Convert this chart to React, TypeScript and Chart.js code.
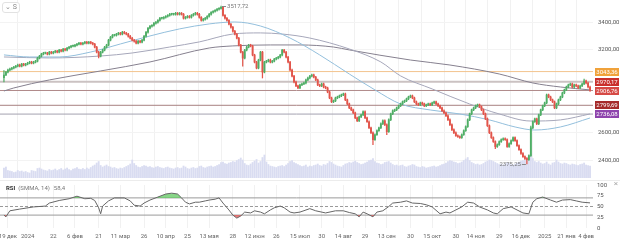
import React, { useEffect, useRef } from 'react';
import { Chart, registerables } from 'chart.js';
Chart.register(...registerables);

// ---------- DATA ----------
const closes = [
3019, 3040, 3055, 3062, 3069, 3076, 3083, 3091, 3083, 3098,
3091, 3098, 3105, 3112, 3105, 3112, 3119, 3141, 3155, 3170,
3177, 3177, 3170, 3184, 3177, 3184, 3191, 3184, 3199, 3191,
3206, 3199, 3213, 3220, 3228, 3228, 3235, 3242, 3249, 3242,
3249, 3256, 3249, 3256, 3249, 3242, 3220, 3184, 3155, 3184,
3199, 3220, 3235, 3271, 3292, 3306, 3306, 3314, 3321, 3314,
3328, 3321, 3314, 3299, 3285, 3271, 3263, 3249, 3263, 3256,
3271, 3299, 3328, 3357, 3371, 3378, 3393, 3400, 3414, 3429,
3429, 3436, 3443, 3450, 3458, 3458, 3458, 3465, 3458, 3465,
3458, 3429, 3436, 3443, 3436, 3450, 3458, 3465, 3458, 3436,
3414, 3422, 3429, 3443, 3458, 3472, 3479, 3486, 3494, 3501,
3508, 3450, 3429, 3414, 3386, 3364, 3335, 3314, 3285, 3235,
3184, 3141, 3199, 3220, 3235, 3228, 3163, 3112, 3069, 3127,
3184, 3040, 3112, 3119, 3127, 3112, 3119, 3134, 3141, 3148,
3163, 3199, 3184, 3148, 3112, 3055, 3011, 2968, 2940, 2925,
2947, 2954, 2961, 2983, 2997, 3011, 3019, 3004, 2983, 2947,
2940, 2954, 2932, 2925, 2896, 2853, 2825, 2832, 2853, 2860,
2868, 2875, 2882, 2839, 2810, 2781, 2767, 2745, 2709, 2688,
2716, 2731, 2753, 2709, 2681, 2637, 2601, 2551, 2587, 2616,
2637, 2666, 2688, 2659, 2609, 2695, 2738, 2760, 2767, 2781,
2796, 2810, 2825, 2832, 2846, 2860, 2868, 2853, 2825, 2810,
2803, 2817, 2810, 2796, 2803, 2810, 2803, 2817, 2825, 2810,
2796, 2781, 2760, 2745, 2724, 2695, 2659, 2623, 2601, 2580,
2573, 2566, 2587, 2616, 2645, 2695, 2738, 2767, 2781, 2796,
2803, 2789, 2767, 2738, 2702, 2652, 2601, 2566, 2537, 2501,
2515, 2537, 2551, 2558, 2551, 2501, 2522, 2544, 2566, 2544,
2508, 2479, 2451, 2429, 2415, 2407, 2436, 2637, 2681, 2702,
2666, 2731, 2767, 2796, 2817, 2875, 2860, 2839, 2825, 2781,
2810, 2839, 2860, 2889, 2911, 2932, 2947, 2954, 2932, 2947,
2940, 2925, 2940, 2954, 2976, 2961, 2932, 2906.76,
];
const firstOpen = 3000;
const wickPad = 6;
const highOverrides: Record<number, number> = { 0: 3050, 110: 3517.72, 267: 2650, 294: 2990 };
const lowOverrides: Record<number, number> = { 0: 2968, 48: 3142, 121: 3083, 131: 2997, 187: 2515, 194: 2587, 249: 2486, 265: 2375.25 };

const volumes = [
40, 44, 30, 28, 26, 22, 24, 30, 26, 28,
24, 26, 22, 20, 30, 28, 26, 38, 40, 36,
32, 30, 28, 34, 30, 32, 36, 30, 34, 38,
32, 36, 40, 34, 30, 36, 38, 42, 36, 34,
38, 34, 40, 36, 42, 48, 52, 60, 66, 50,
44, 48, 52, 46, 44, 40, 42, 38, 36, 40,
38, 42, 46, 50, 56, 72, 58, 50, 44, 42,
46, 50, 48, 44, 46, 42, 40, 44, 46, 42,
40, 38, 42, 44, 40, 38, 36, 40, 42, 38,
40, 48, 44, 38, 36, 40, 42, 38, 40, 46,
48, 42, 40, 44, 46, 48, 44, 46, 50, 54,
62, 64, 58, 56, 60, 62, 66, 64, 70, 74,
80, 72, 58, 52, 50, 56, 62, 68, 74, 60,
66, 82, 92, 64, 54, 48, 46, 44, 42, 46,
48, 50, 46, 52, 58, 66, 70, 62, 58, 54,
50, 46, 48, 52, 44, 48, 46, 50, 52, 56,
50, 48, 54, 52, 58, 66, 62, 56, 52, 48,
46, 44, 50, 56, 58, 62, 60, 64, 68, 62,
58, 54, 56, 60, 64, 70, 72, 78, 66, 60,
58, 54, 56, 62, 64, 66, 60, 54, 50, 52,
48, 50, 52, 46, 44, 48, 50, 54, 52, 46,
44, 42, 46, 44, 40, 42, 44, 46, 48, 44,
46, 50, 54, 56, 60, 66, 70, 68, 64, 62,
58, 60, 64, 70, 76, 82, 70, 62, 58, 54,
56, 52, 54, 58, 64, 68, 72, 70, 66, 62,
58, 54, 56, 52, 56, 62, 58, 54, 52, 56,
60, 64, 68, 70, 74, 80, 72, 96, 78, 66,
62, 66, 60, 56, 58, 64, 56, 52, 60, 62,
72, 64, 58, 56, 60, 58, 54, 52, 56, 54,
52, 50, 54, 56, 60, 52, 50, 48,
];

// moving averages: [candle index, value]
const maFast = [[0,3164],[13,3149],[28,3149],[44,3185],[59,3243],[74,3301],[89,3352],[104,3388],[117,3402],[130,3373],[145,3286],[160,3164],[175,3026],[188,2911],[201,2809],[216,2766],[231,2737],[246,2694],[259,2643],[269,2621],[282,2643],[297,2708]];
const maMid = [[0,3149],[23,3142],[49,3156],[65,3178],[84,3221],[99,3258],[116,3315],[130,3323],[141,3315],[155,3286],[175,3207],[191,3113],[201,3012],[217,2918],[236,2809],[251,2737],[267,2686],[282,2694],[297,2737]];
const maSlow = [[0,2903],[5,2925],[23,2983],[49,3048],[74,3113],[104,3214],[116,3229],[135,3236],[150,3236],[167,3221],[175,3200],[206,3127],[226,3091],[251,3026],[268,2961],[282,2932],[297,2911]];

const levelValues = [3043.36, 2970.17, 2906.76, 2799.69, 2736.08];

const priceTicks = [2400, 2600, 3200, 3400];
const rsiTicks = [0, 25, 50, 75, 100];

const tickIdx = [2, 12, 25, 36, 48, 59, 71, 82, 93, 104, 116, 127, 138, 150, 161, 172, 183, 194, 206, 217, 229, 239, 251, 262, 274, 285, 295];
const tickLabels = ['19 дек', '2024', '22', '6 фев', '21', '11 мар', '26', '10 апр', '25', '13 мая', '28', '12 июн', '26', '15 июл', '30', '14 авг', '29', '13 сен', '30', '15 окт', '30', '14 ноя', '29', '16 дек', '2025', '21 янв', '4 фев'];

const rsiIdx = [0,1,3,8,15,21,23,28,33,37,41,44,46,48,49,50,53,56,61,64,66,69,71,74,78,82,85,88,90,92,94,97,99,102,104,107,109,111,114,116,118,120,122,125,127,130,132,135,137,140,142,145,147,150,155,158,163,168,172,175,178,180,182,184,187,189,192,195,197,201,204,207,211,214,217,221,224,226,229,232,235,238,241,245,248,250,253,257,260,263,266,268,270,273,277,280,283,287,290,293,297];
const rsiVal = [30,26,40,44,49,51,58,64,68,74,68,69,64,47,33,51,63,70,70,63,53,51,58,65,72,79,81,79,70,60,56,60,60,63,65,67,70,58,42,30,23,28,37,35,40,37,33,42,47,51,47,37,35,37,45,40,35,40,40,36,33,26,37,33,26,37,40,50,58,60,63,58,57,54,49,33,37,35,42,49,60,58,49,42,35,33,45,49,42,35,33,60,68,72,65,60,65,66,63,60,58.4];

// ---------- STYLE ----------
const X_MIN = -2, X_MAX = 298.5;
const PRICE_MIN = 2274, PRICE_MAX = 3561;
const VOL_MAX = 712;
const UP = '#4fae66', DOWN = '#e2554b';
const levelLineColors = ['#f3c48e', '#cbc2c2', '#b08a8a', '#a88080', '#a4a2b0'];
const levelLineWidths = [1, 2, 1, 1, 1];
const levelBoxColors = ['#f0a23b', '#c9302c', '#d64a45', '#a52a2a', '#8e44ad'];
const FONT = 'Roboto, "DejaVu Sans", sans-serif';

const fmt = (v: number) => v.toFixed(2).replace('.', ',');

const opens = closes.map((c, i) => (i === 0 ? firstOpen : closes[i - 1]));
const highs = closes.map((c, i) => highOverrides[i] ?? Math.max(c, opens[i]) + wickPad);
const lows = closes.map((c, i) => lowOverrides[i] ?? Math.min(c, opens[i]) - wickPad);
const candleColors = closes.map((c, i) => (c >= opens[i] ? UP : DOWN));

const pricePlugin = {
  id: 'priceOverlay',
  afterDraw(chart: any) {
    const { ctx, chartArea } = chart;
    const ys = chart.scales.y, xs = chart.scales.x;
    ctx.save();
    const h = 8;
    const items = levelValues.map((v, i) => ({ y: ys.getPixelForValue(v), i }));
    items.sort((a, b) => a.y - b.y);
    for (let k = 1; k < items.length; k++) {
      const d = items[k].y - items[k - 1].y;
      if (d < h + 1) { const s = (h + 1 - d) / 2; items[k - 1].y -= s; items[k].y += s; }
    }
    ctx.font = `6px ${FONT}`;
    ctx.textAlign = 'center';
    ctx.textBaseline = 'middle';
    items.forEach((it) => {
      ctx.fillStyle = levelBoxColors[it.i];
      ctx.fillRect(chartArea.right + 2, Math.round(it.y - h / 2), 24, h);
      ctx.fillStyle = '#ffffff';
      ctx.fillText(fmt(levelValues[it.i]), chartArea.right + 14, Math.round(it.y - h / 2) + h / 2 + 0.5);
    });
    let iH = 0, iL = 0;
    highs.forEach((v, i) => { if (v > highs[iH]) iH = i; });
    lows.forEach((v, i) => { if (v < lows[iL]) iL = i; });
    ctx.strokeStyle = '#888';
    ctx.lineWidth = 1;
    ctx.fillStyle = '#777';
    ctx.textBaseline = 'middle';
    const hx = xs.getPixelForValue(iH), hy = ys.getPixelForValue(highs[iH]);
    ctx.beginPath(); ctx.moveTo(hx + 1, Math.round(hy) + 0.5); ctx.lineTo(hx + 5, Math.round(hy) + 0.5); ctx.stroke();
    ctx.textAlign = 'left';
    ctx.fillText(fmt(highs[iH]), hx + 6, hy + 1);
    const lx = xs.getPixelForValue(iL), ly = ys.getPixelForValue(lows[iL]);
    ctx.beginPath(); ctx.moveTo(lx - 1, Math.round(ly) + 0.5); ctx.lineTo(lx - 5, Math.round(ly) + 0.5); ctx.stroke();
    ctx.textAlign = 'right';
    ctx.fillText(fmt(lows[iL]), lx - 6, ly + 1);
    ctx.restore();
  },
};

const rsiPlugin = {
  id: 'rsiOverlay',
  afterDraw(chart: any) {
    const { ctx } = chart;
    ctx.save();
    ctx.strokeStyle = '#ececec';
    ctx.beginPath(); ctx.moveTo(0, 0.5); ctx.lineTo(620, 0.5); ctx.stroke();
    ctx.textBaseline = 'middle';
    ctx.textAlign = 'left';
    ctx.font = `bold 6px ${FONT}`;
    ctx.fillStyle = '#333';
    let x = 6;
    ctx.fillText('RSI', x, 8);
    x += ctx.measureText('RSI').width + 3;
    ctx.font = `6px ${FONT}`;
    ctx.fillStyle = '#777';
    ctx.fillText('(SMMA, 14)', x, 8);
    x += ctx.measureText('(SMMA, 14)').width + 4;
    ctx.fillText(String(rsiVal[rsiVal.length - 1]).replace('.', ','), x, 8);
    ctx.font = `8px ${FONT}`;
    ctx.fillStyle = '#aaa';
    ctx.textAlign = 'center';
    ctx.fillText('×', 616, 4);
    ctx.restore();
  },
};

export default function App() {
  const priceRef = useRef<HTMLCanvasElement>(null);
  const rsiRef = useRef<HTMLCanvasElement>(null);

  useEffect(() => {
    const idx = closes.map((_, i) => i);
    const xScaleBase = {
      type: 'linear' as const,
      min: X_MIN,
      max: X_MAX,
      offset: false,
      afterBuildTicks: (s: any) => { s.ticks = tickIdx.map((v) => ({ value: v })); },
      grid: { color: '#f1f1f1', drawTicks: false },
      border: { display: false },
    };

    const priceChart = new Chart(priceRef.current as HTMLCanvasElement, {
      type: 'bar',
      data: {
        datasets: [
          {
            type: 'bar', label: 'body', order: 0, yAxisID: 'y', grouped: false,
            data: idx.map((i) => ({ x: i, y: [opens[i], closes[i]] })) as any,
            backgroundColor: candleColors, barThickness: 1.2, minBarLength: 1,
          },
          {
            type: 'bar', label: 'wick', order: 1, yAxisID: 'y', grouped: false,
            data: idx.map((i) => ({ x: i, y: [lows[i], highs[i]] })) as any,
            backgroundColor: candleColors, barThickness: 0.6,
          },
          ...[maFast, maMid, maSlow].map((m, k) => ({
            type: 'line' as const, label: 'ma' + k, order: 2, yAxisID: 'y',
            data: m.map(([i, v]) => ({ x: i, y: v })),
            borderColor: ['#93bfdc', '#a6a7ba', '#86808f'][k], borderWidth: 1,
            pointRadius: 0, cubicInterpolationMode: 'monotone' as const, fill: false,
          })),
          ...levelValues.map((v, k) => ({
            type: 'line' as const, label: 'lvl' + k, order: 3, yAxisID: 'y',
            data: [{ x: X_MIN, y: v }, { x: X_MAX, y: v }],
            borderColor: levelLineColors[k], borderWidth: levelLineWidths[k], pointRadius: 0, fill: false,
          })),
          {
            type: 'bar', label: 'vol', order: 5, yAxisID: 'v', grouped: false,
            data: idx.map((i) => ({ x: i, y: volumes[i] })) as any,
            backgroundColor: '#d9dcf1', barThickness: 1.2,
          },
        ] as any,
      },
      options: {
        animation: false,
        responsive: false,
        maintainAspectRatio: false,
        events: [],
        layout: { padding: { top: 0, bottom: 2, left: 0, right: 0 } },
        plugins: { legend: { display: false }, tooltip: { enabled: false } },
        scales: {
          x: { ...xScaleBase, ticks: { display: false }, afterFit: (s: any) => { s.height = 0; s.paddingLeft = 0; s.paddingRight = 0; } },
          y: {
            type: 'linear', position: 'right', min: PRICE_MIN, max: PRICE_MAX,
            afterBuildTicks: (s: any) => { s.ticks = priceTicks.map((v) => ({ value: v })); },
            ticks: { callback: (v: any) => fmt(Number(v)), font: { size: 6, family: FONT }, color: '#555', padding: 5 },
            grid: { color: '#f3f3f3', drawTicks: false },
            border: { display: false },
            afterFit: (s: any) => { s.width = 27; s.paddingTop = 0; s.paddingBottom = 0; },
          },
          v: { type: 'linear', display: false, min: 0, max: VOL_MAX },
        },
      } as any,
      plugins: [pricePlugin],
    });

    const rsiPoints = rsiIdx.map((i, k) => ({ x: i, y: rsiVal[k] }));
    const rsiChart = new Chart(rsiRef.current as HTMLCanvasElement, {
      type: 'line',
      data: {
        datasets: [
          {
            label: 'rsi', data: rsiPoints, borderColor: '#666', borderWidth: 1, pointRadius: 0, order: 0,
            fill: { target: { value: 70 }, above: 'rgba(96,200,96,0.75)', below: 'rgba(0,0,0,0)' },
          },
          {
            label: 'rsiLow', data: rsiPoints, borderColor: 'rgba(0,0,0,0)', borderWidth: 0, pointRadius: 0, order: 1,
            fill: { target: { value: 30 }, above: 'rgba(0,0,0,0)', below: 'rgba(226,90,90,0.8)' },
          },
          ...[70, 30].map((v) => ({
            label: 'band' + v, data: [{ x: X_MIN, y: v }, { x: X_MAX, y: v }],
            borderColor: '#9a9a9a', borderWidth: 1, pointRadius: 0, fill: false, order: 2,
          })),
          {
            label: 'mid', data: [{ x: X_MIN, y: 50 }, { x: X_MAX, y: 50 }],
            borderColor: '#9a9a9a', borderWidth: 1, borderDash: [3, 2], pointRadius: 0, fill: false, order: 2,
          },
        ] as any,
      },
      options: {
        animation: false,
        responsive: false,
        maintainAspectRatio: false,
        events: [],
        layout: { padding: { top: 5, bottom: 0, left: 0, right: 0 } },
        plugins: { legend: { display: false }, tooltip: { enabled: false } },
        scales: {
          x: {
            ...xScaleBase,
            ticks: {
              autoSkip: false, maxRotation: 0, padding: 5, font: { size: 6, family: FONT }, color: '#666',
              callback: (v: any) => { const k = tickIdx.indexOf(Number(v)); return k >= 0 ? tickLabels[k] : ''; },
            },
            afterFit: (s: any) => { s.height = 15; s.paddingLeft = 0; s.paddingRight = 0; },
          },
          y: {
            type: 'linear', position: 'right', min: 0, max: 100,
            afterBuildTicks: (s: any) => { s.ticks = rsiTicks.map((v) => ({ value: v })); },
            ticks: { font: { size: 6, family: FONT }, color: '#555', padding: 4 },
            grid: { display: false, drawTicks: false },
            border: { display: false },
            afterFit: (s: any) => { s.width = 27; s.paddingTop = 0; s.paddingBottom = 0; },
          },
        },
      } as any,
      plugins: [rsiPlugin],
    });

    return () => { priceChart.destroy(); rsiChart.destroy(); };
  }, []);

  return (
    <div style={{ position: 'fixed', left: 0, top: 0, width: 620, height: 243, background: '#fff', overflow: 'hidden' }}>
      <canvas ref={priceRef} width={620} height={180} style={{ position: 'absolute', left: 0, top: 0, width: 620, height: 180 }} />
      <canvas ref={rsiRef} width={620} height={63} style={{ position: 'absolute', left: 0, top: 180, width: 620, height: 63 }} />
      <div style={{ position: 'absolute', left: 2, top: 2, width: 16, height: 9, border: '1px solid #e2e2e2', borderRadius: 3, background: '#fff', font: `7px ${FONT}`, color: '#888', display: 'flex', alignItems: 'center', justifyContent: 'center', gap: 2, lineHeight: '9px' }}>
        <span>⌄</span><span>S</span>
      </div>
    </div>
  );
}
